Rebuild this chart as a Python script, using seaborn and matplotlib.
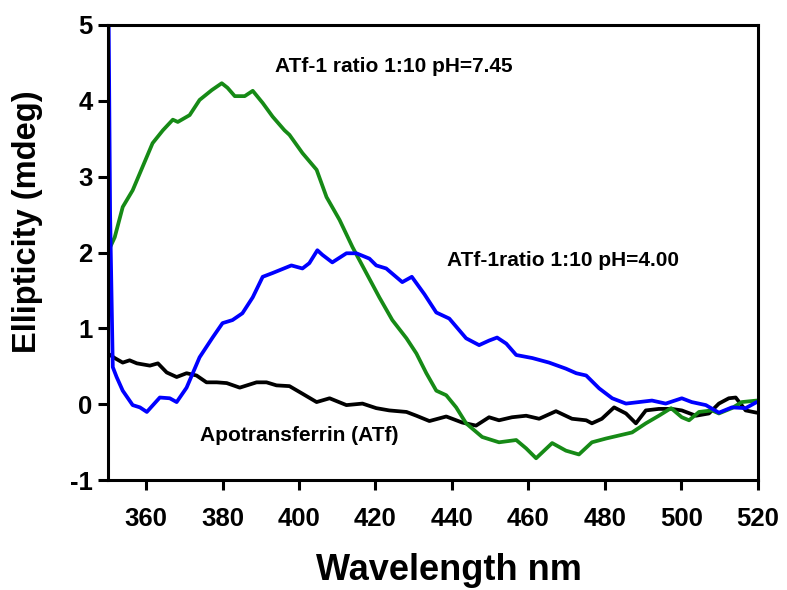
import numpy as np
import matplotlib.pyplot as plt
import seaborn as sns

# datos (nm, mdeg)
wl_ph745 = [350.0, 350.6, 351.8, 353.9, 356.5, 359.1, 361.7, 364.4, 367.0, 368.3, 371.4, 374.0,
            377.2, 379.8, 381.3, 383.2, 385.8, 387.9, 390.5, 393.1, 396.2, 397.5, 400.9, 404.6,
            407.2, 410.6, 414.0, 417.6, 421.0, 424.4, 428.1, 430.7, 433.3, 435.9, 438.5, 441.1,
            443.7, 447.9, 452.3, 456.8, 459.4, 462.0, 466.2, 469.8, 473.2, 476.6, 480.3, 483.7,
            487.1, 490.7, 494.1, 497.3, 500.1, 502.0, 504.6, 508.0, 509.8, 513.2, 515.8, 519.7]
ell_ph745 = [1.04, 2.07, 2.20, 2.60, 2.82, 3.13, 3.44, 3.61, 3.75, 3.72, 3.81, 4.01,
             4.14, 4.23, 4.17, 4.06, 4.06, 4.13, 3.97, 3.79, 3.61, 3.55, 3.31, 3.09,
             2.73, 2.43, 2.07, 1.73, 1.41, 1.11, 0.87, 0.67, 0.41, 0.18, 0.12, -0.04,
             -0.25, -0.43, -0.50, -0.47, -0.58, -0.71, -0.51, -0.61, -0.66, -0.50, -0.45, -0.41,
             -0.37, -0.25, -0.15, -0.05, -0.17, -0.21, -0.10, -0.08, -0.12, -0.05, 0.03, 0.05]

wl_ph400 = [350.2, 350.6, 351.3, 352.3, 353.9, 356.5, 358.4, 360.2, 363.6, 366.2, 368.0, 370.6,
            374.0, 377.4, 380.0, 382.6, 385.2, 387.9, 390.5, 393.1, 398.0, 400.9, 402.7, 404.8,
            406.1, 408.7, 412.4, 415.0, 418.4, 420.2, 422.8, 427.0, 429.5, 432.8, 435.9, 439.3,
            443.7, 447.1, 449.7, 451.8, 454.2, 456.8, 461.0, 465.4, 469.8, 472.5, 475.1, 478.5,
            481.9, 485.5, 488.9, 492.3, 495.9, 500.1, 502.7, 506.4, 509.8, 513.2, 516.8, 519.7]
ell_ph400 = [5.2, 2.5, 0.49, 0.36, 0.18, -0.01, -0.04, -0.10, 0.09, 0.08, 0.03, 0.22,
             0.62, 0.88, 1.07, 1.11, 1.20, 1.41, 1.68, 1.73, 1.83, 1.79, 1.86, 2.03,
             1.97, 1.87, 1.99, 1.99, 1.92, 1.83, 1.79, 1.61, 1.68, 1.45, 1.21, 1.13,
             0.87, 0.78, 0.84, 0.88, 0.80, 0.65, 0.61, 0.55, 0.47, 0.41, 0.38, 0.21,
             0.08, 0.01, 0.03, 0.05, 0.01, 0.08, 0.03, -0.01, -0.11, -0.04, -0.05, 0.03]

wl_atf = [350.0, 351.8, 353.9, 355.7, 357.6, 361.0, 363.1, 365.4, 368.0, 370.6, 373.2, 375.8,
          378.5, 381.1, 384.5, 388.9, 391.5, 394.1, 397.5, 400.9, 404.6, 408.0, 412.4, 416.6,
          420.2, 423.6, 428.1, 430.7, 434.1, 438.5, 442.7, 446.3, 449.7, 452.3, 455.7, 459.4,
          462.8, 467.2, 471.4, 475.1, 476.6, 479.2, 482.4, 485.5, 488.1, 490.7, 494.1, 497.5,
          500.1, 503.8, 507.2, 509.8, 512.4, 514.2, 516.8, 519.7]
ell_atf = [0.67, 0.61, 0.55, 0.58, 0.54, 0.51, 0.54, 0.42, 0.36, 0.41, 0.38, 0.29,
           0.29, 0.28, 0.22, 0.29, 0.29, 0.25, 0.24, 0.14, 0.03, 0.08, -0.01, 0.01,
           -0.05, -0.08, -0.10, -0.15, -0.22, -0.16, -0.24, -0.28, -0.17, -0.21, -0.17, -0.15,
           -0.19, -0.09, -0.19, -0.21, -0.25, -0.19, -0.04, -0.12, -0.25, -0.08, -0.06, -0.06,
           -0.08, -0.15, -0.12, 0.01, 0.08, 0.09, -0.08, -0.11]

x_ticks = [360, 380, 400, 420, 440, 460, 480, 500, 520]
y_ticks = [-1, 0, 1, 2, 3, 4, 5]

sns.set_style("ticks")
plt.rcParams['font.family'] = ['Liberation Sans', 'DejaVu Sans']
plt.rcParams['font.weight'] = 'bold'
plt.rcParams['axes.unicode_minus'] = False
for k in ['text.color', 'axes.labelcolor', 'xtick.color', 'ytick.color', 'axes.edgecolor']:
    plt.rcParams[k] = 'black'

fig, ax = plt.subplots(figsize=(7.87, 5.9), dpi=100)
fig.subplots_adjust(left=0.137, right=0.963, top=0.958, bottom=0.186)

lw = 2.7
sns.lineplot(x=wl_atf, y=ell_atf, color="black", lw=lw, sort=False, estimator=None, ax=ax)
sns.lineplot(x=wl_ph745, y=ell_ph745, color="#168a16", lw=lw, sort=False, estimator=None, ax=ax)
sns.lineplot(x=wl_ph400, y=ell_ph400, color="#0000ff", lw=lw, sort=False, estimator=None, ax=ax)

ax.set_xlim(350, 520)
ax.set_ylim(-1, 5)
ax.set_xticks(x_ticks)
ax.set_yticks(y_ticks)
ax.tick_params(axis="both", direction="out", length=7, width=2.2, labelsize=18.5, pad=4, color="black")
ax.tick_params(axis="x", pad=12)
for s in ax.spines.values():
    s.set_linewidth(2.2)
    s.set_color("black")
    s.set_visible(True)

ax.set_xlabel("Wavelength nm", fontsize=26, fontweight="bold")
ax.set_ylabel("Ellipticity (mdeg)", fontsize=23.5, fontweight="bold")
ax.xaxis.set_label_coords(0.525, -0.16)
ax.yaxis.set_label_coords(-0.10, 0.567)

ax.text(393.6, 4.45, "ATf-1 ratio 1:10 pH=7.45", fontsize=15, fontweight="bold", va="center")
ax.text(438.8, 1.9, "ATf-1ratio 1:10 pH=4.00", fontsize=15, fontweight="bold", va="center")
ax.text(374.0, -0.41, "Apotransferrin (ATf)", fontsize=15, fontweight="bold", va="center")

fig.savefig("out.png", dpi=100)
